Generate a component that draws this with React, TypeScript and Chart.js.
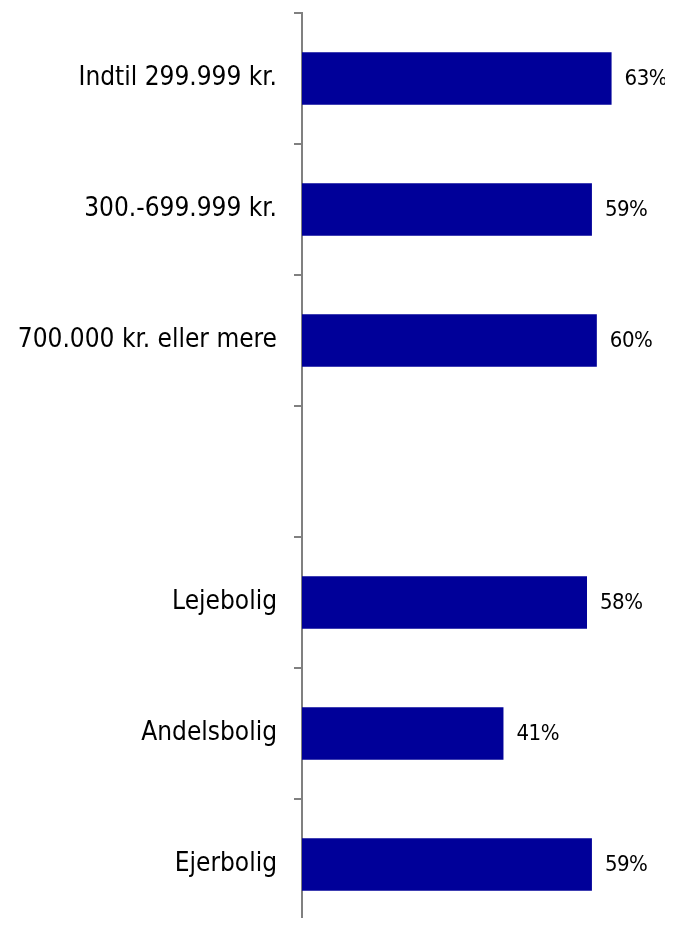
import React, { useEffect, useRef } from "react";
import { Chart, registerables } from "chart.js";

Chart.register(...registerables);

const categories: string[] = [
  "Indtil 299.999 kr.",
  "300.-699.999 kr.",
  "700.000 kr. eller mere",
  "",
  "Lejebolig",
  "Andelsbolig",
  "Ejerbolig",
];
const values: (number | null)[] = [63, 59, 60, null, 58, 41, 59];
const valueLabels: string[] = ["63%", "59%", "60%", "", "58%", "41%", "59%"];

const FONT = "'DejaVu Sans Condensed', 'DejaVu Sans', sans-serif";

const valueLabelPlugin = {
  id: "valueLabels",
  afterDatasetsDraw(chart: any) {
    const ctx = chart.ctx;
    const meta = chart.getDatasetMeta(0);
    ctx.save();
    ctx.font = `22px ${FONT}`;
    (ctx as any).letterSpacing = "-0.5px";
    ctx.fillStyle = "#000000";
    ctx.textAlign = "left";
    ctx.textBaseline = "middle";
    meta.data.forEach((bar: any, i: number) => {
      if (values[i] == null) return;
      ctx.fillText(valueLabels[i], bar.x + 13, bar.y + 1);
    });
    ctx.restore();
  },
};

export default function App() {
  const ref = useRef<HTMLCanvasElement | null>(null);
  useEffect(() => {
    if (!ref.current) return;
    const chart = new Chart(ref.current, {
      type: "bar",
      data: {
        labels: categories,
        datasets: [
          {
            data: values,
            backgroundColor: "#000099",
            borderWidth: 0,
            barPercentage: 0.4,
            categoryPercentage: 1,
          },
        ],
      },
      options: {
        indexAxis: "y",
        animation: false,
        responsive: false,
        layout: { padding: { top: 13, bottom: 15, left: 0, right: 0 } },
        plugins: {
          legend: { display: false },
          tooltip: { enabled: false },
        },
        scales: {
          x: {
            display: false,
            min: 0,
            max: 75.5,
          },
          y: {
            afterFit: (s: any) => {
              s.width = 302;
              s.paddingTop = 0;
              s.paddingBottom = 0;
            },
            grid: {
              display: true,
              drawOnChartArea: false,
              drawTicks: true,
              tickLength: 8,
              color: "#808080",
              lineWidth: 2,
              offset: true,
            },
            border: { display: true, color: "#808080", width: 2 },
            ticks: {
              color: "#000000",
              padding: 17,
              font: { family: FONT, size: 26 },
            },
          },
        },
      },
      plugins: [valueLabelPlugin],
    });
    return () => chart.destroy();
  }, []);
  return (
    <div style={{ margin: -8, width: 673, height: 926, overflow: "hidden" }}>
      <canvas
        ref={ref}
        width={673}
        height={945}
        style={{ display: "block", width: 673, height: 945 }}
      />
    </div>
  );
}
